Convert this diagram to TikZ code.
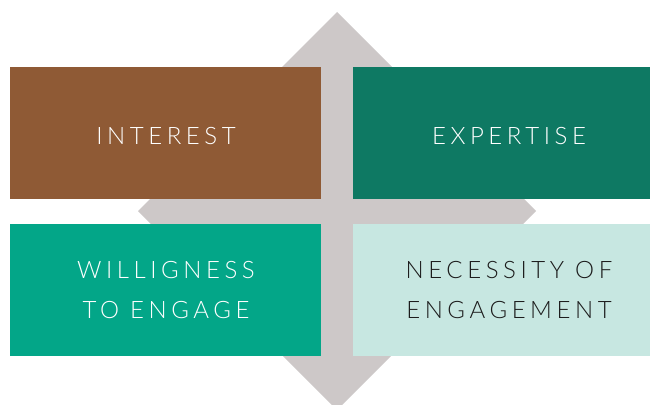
\documentclass[tikz,border=0pt]{standalone}
\usepackage{fontspec}
\newfontfamily\lab[LetterSpace=19]{Lato Light}
\definecolor{cbrown}{HTML}{8F5A35}
\definecolor{cdark}{HTML}{0E7963}
\definecolor{cteal}{HTML}{03A688}
\definecolor{clight}{HTML}{C7E7E1}
\definecolor{cgray}{HTML}{CDC8C8}
\definecolor{ctext}{HTML}{1C1C1C}
\begin{document}
\begin{tikzpicture}[x=1pt,y=-1pt,
  quad/.style={minimum width=#1, minimum height=132pt, inner sep=0pt, outer sep=0pt, anchor=north west},
  lbl/.style={font=\lab\fontsize{24}{40}\selectfont, align=center, text=white}]
\useasboundingbox (0,0) rectangle (650,404);
\fill[cgray] (337,12) coordinate (top) -- (536,211) coordinate (right) -- (337,410) coordinate (bot) -- (138,211) coordinate (left) -- cycle;
\node[quad=311pt, fill=cbrown] (q1) at (10,67) {};
\node[quad=297pt, fill=cdark] (q2) at (353,67) {};
\node[quad=311pt, fill=cteal] (q3) at (10,224) {};
\node[quad=297pt, fill=clight] (q4) at (353,224) {};
\node[lbl] (t1) at (166,136) {INTEREST};
\node[lbl] (t2) at (509,136) {EXPERTISE};
\node[lbl] (t3) at (166,290.5) {WILLIGNESS\\TO ENGAGE};
\node[lbl, text=ctext] (t4) at (509,290.5) {NECESSITY OF\\ENGAGEMENT};
\end{tikzpicture}
\end{document}
